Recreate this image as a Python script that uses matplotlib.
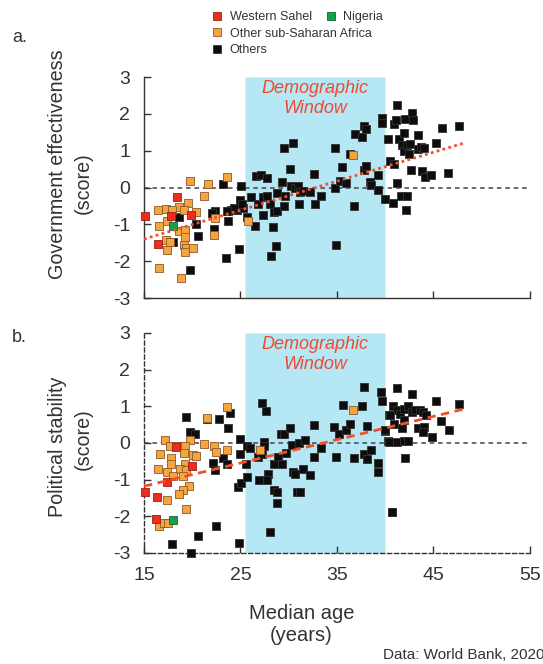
import numpy as np
import matplotlib
matplotlib.use('Agg')
import matplotlib.pyplot as plt
from matplotlib.lines import Line2D

plt.rcParams['font.family'] = ['Liberation Sans', 'DejaVu Sans']

# ---- data: median age (years) vs score ----
# panel a: government effectiveness
a_sahel_age = [15.1, 18.4, 17.8, 19.9, 16.4]
a_sahel_val = [-0.77, -0.27, -0.76, -0.74, -1.53]
a_nigeria_age = [18.0]
a_nigeria_val = [-1.04]
a_ssa_age = [23.65, 19.8, 21.6, 21.2, 19.6, 16.45, 17.3, 18.6, 19.1, 17.9, 20.4, 17.4, 16.6,
             18.6, 19.2, 19.2, 17.3, 17.7, 19.1, 19.4, 20.1, 17.4, 19.2, 22.3, 22.4, 16.6, 18.8,
             25.8, 36.7]
a_ssa_val = [0.28, 0.19, 0.10, -0.22, -0.42, -0.61, -0.57, -0.54, -0.62, -0.62, -0.66, -0.90, -1.05,
             -1.19, -1.16, -1.35, -1.42, -1.49, -1.57, -1.63, -1.65, -1.71, -1.75, -1.29, -0.83, -2.19, -2.45,
             -0.90, 0.89]
a_oth_age = [18.6, 18.0, 20.4, 20.6, 19.8, 23.2, 25.1, 25.0, 22.1, 22.4, 22.3, 23.7, 23.7, 23.5, 24.8,
             24.6, 25.3, 25.7, 24.0, 24.3, 25.2, 22.0, 23.65,
             26.1, 26.5, 26.6, 27.1, 27.7, 26.8, 27.3, 27.3, 27.7, 28.1, 28.4, 28.5, 28.8, 28.7, 28.2,
             28.8, 29.3, 29.5, 30.4, 30.1, 29.5, 29.6, 30.2, 30.6, 31.0, 31.2, 31.5, 31.1, 32.2, 32.6,
             32.7, 33.3, 34.8, 34.8, 34.9, 35.3, 35.5, 35.9, 36.4, 36.8, 36.9, 37.6, 37.8, 38.0, 37.8,
             38.0, 38.4, 38.5, 39.2, 39.2, 39.7, 39.7,
             40.0, 40.3, 40.5, 40.8, 40.9, 40.9, 41.1, 41.2, 41.2, 41.4, 41.6, 41.7, 41.9, 42.1, 42.3,
             42.2, 41.9, 42.3, 42.6, 42.5, 42.7, 42.8, 42.9, 43.4, 43.4, 43.7, 44.0, 43.8, 44.1, 44.7,
             45.3, 45.9, 46.5, 47.6]
a_oth_val = [-0.81, -1.47, -0.99, -1.33, -2.25, 0.10, 0.05, -0.33, -0.70, -0.65, -1.12, -0.65, -0.90, -1.92, -1.67,
             -0.61, -0.56, -0.79, -0.60, -0.55, -0.45, -0.68, -0.63,
             -0.27, -1.04, 0.30, 0.34, 0.25, -0.45, -0.74, -0.26, -0.23, -0.44, -1.08, -0.66, -0.65, -1.58, -1.86,
             -0.15, 0.16, 1.07, 1.20, 0.50, -0.49, -0.24, 0.03, -0.02, 0.03, -0.11, -0.09, -0.44, -0.11, 0.37,
             -0.45, -0.24, 1.07, -0.02, -1.57, 0.19, 0.55, 0.12, 0.91, -0.49, 1.46, 1.38, 1.66, 1.59, 0.48,
             0.59, 0.14, 0.07, 0.34, -0.06, 1.88, 1.76,
             -0.30, 1.32, 0.71, -0.41, 0.64, 1.72, 1.82, 2.23, 0.12, 1.32, -0.24, 1.16, 1.48, 1.86, -0.24,
             -0.62, 1.00, 1.16, 1.18, 0.91, 0.48, 2.02, 1.84, 1.43, 1.04, 1.10, 1.07, 0.45, 0.28, 0.34,
             1.20, 1.61, 0.39, 1.67]

# panel b: political stability
b_sahel_age = [15.1, 16.3, 17.4, 19.95, 18.3, 16.2]
b_sahel_val = [-1.35, -1.48, -1.06, -0.63, -0.11, -2.08]
b_nigeria_age = [18.05]
b_nigeria_val = [-2.11]
b_ssa_age = [23.65, 21.5, 17.2, 19.8, 17.7, 18.5, 19.2, 21.2, 22.3, 22.5, 23.65, 16.7, 17.8, 19.1, 20.1,
             20.4, 17.8, 19.2, 16.5, 17.4, 18.7, 19.4, 18.0, 19.0, 19.7, 19.0, 18.6, 17.4, 19.4, 16.6,
             17.1, 17.5, 27.0, 36.7]
b_ssa_val = [0.98, 0.68, 0.09, 0.09, -0.09, -0.09, -0.09, -0.02, -0.09, -0.24, -0.18, -0.31, -0.41, -0.27, -0.33,
             -0.36, -0.56, -0.56, -0.71, -0.80, -0.71, -0.74, -0.90, -0.90, -1.18, -1.27, -1.39, -1.56, -1.81, -2.26,
             -2.19, -2.17, -0.20, 0.89]
b_oth_age = [19.4, 21.5, 22.8, 23.9, 23.75, 19.8, 20.3, 25.0, 25.0, 22.2, 22.4, 23.2, 23.65, 24.7, 25.1,
             22.5, 20.6, 17.9, 19.85, 24.8,
             25.7, 26.0, 25.55, 25.7, 26.9, 26.8, 27.2, 27.4, 27.4, 27.2, 27.6, 27.9, 27.7, 28.5, 28.8,
             28.8, 28.1, 28.5, 28.9, 29.3, 29.2, 29.5, 29.7, 30.1, 30.3, 30.4, 30.6, 30.9, 31.2, 31.5,
             31.1, 31.7, 32.2, 32.6, 32.6, 33.3, 34.7, 34.9, 35.2, 35.6, 35.9, 36.3, 36.8, 37.6, 37.8,
             37.8, 38.1, 38.1, 38.5, 39.2, 39.2, 39.6, 39.7, 40.0, 40.3, 40.4, 40.7,
             41.2, 42.8, 40.8, 41.2, 40.5, 41.5, 41.9, 42.4, 42.8, 43.1, 43.6, 43.9, 44.2, 41.9, 40.9,
             41.7, 43.4, 44.0, 43.9, 45.8, 45.3, 46.6, 44.8, 47.6, 40.0, 40.4, 41.2, 41.9, 42.4, 42.1,
             40.7]
b_oth_val = [0.71, 0.65, 0.65, 0.83, 0.42, 0.30, 0.24, 0.10, -0.29, -0.54, -0.74, -0.42, -0.58, -1.20, -1.10,
             -2.26, -2.53, -2.76, -3.00, -2.74,
             -0.08, -0.15, -0.58, -0.94, -1.00, -0.38, -0.29, 0.03, -0.09, 1.10, 0.87, -0.85, -1.00, -1.27, -1.33,
             -1.63, -2.44, -0.58, -0.38, -0.56, 0.25, 0.25, -0.26, 0.42, -0.05, -0.79, -0.85, -1.33, -1.35, -0.70,
             0.01, 0.09, -0.86, -0.38, 0.48, -0.14, 0.43, -0.38, 0.25, 1.04, 0.36, 0.51, -0.40, 1.02, 1.54,
             -0.29, 0.46, -0.43, -0.20, -0.54, -0.79, 1.38, 1.14, 0.34, 0.05, 0.75, -1.87,
             1.49, 1.34, 1.00, 0.91, 0.75, 0.80, 0.93, 1.02, 0.84, 0.91, 0.91, 0.84, 0.75, 0.62, 0.53,
             0.42, 0.42, 0.43, 0.30, 0.60, 1.14, 0.35, 0.16, 1.05, 0.35, 0.03, 0.03, 0.05, 0.05, -0.40,
             -1.87]

# trend lines: value at age 15 and slope per year
trend_a = [-1.40, 0.0786]
trend_b = [-1.18, 0.0635]
trend_ages = [15, 48.2]

window = [25.5, 40.0]
xticks = [15, 25, 35, 45, 55]
yticks = [-3, -2, -1, 0, 1, 2, 3]

c_black = '#0d0d0d'
c_orange = '#f6a43f'
c_red = '#ef2d1c'
c_green = '#16a04a'
c_text = '#333333'
c_trend = '#f0502c'

fig = plt.figure(figsize=(5.43, 6.64), dpi=100)
ax_a = fig.add_axes([0.2652, 0.5512, 0.7108, 0.3328])
ax_b = fig.add_axes([0.2652, 0.1672, 0.7108, 0.3313])


def draw_panel(ax, groups, trend, trend_style, dashed_spines):
    ax.axvspan(window[0], window[1], facecolor='#b5e7f4', edgecolor='#f2efc4', lw=0.8, zorder=0)
    ax.axhline(0, color='#444444', lw=1.1, ls=(0, (3, 2.5)), zorder=1)
    for age, val, color, edge in groups:
        ax.scatter(age, val, marker='s', s=40, c=color, edgecolors=edge, linewidths=0.6,
                   zorder=3, clip_on=False)
    xs = np.array(trend_ages)
    ax.plot(xs, trend[0] + trend[1] * (xs - 15), color=c_trend, lw=2.0, ls=trend_style, zorder=4)
    ax.set_xlim(15, 55)
    ax.set_ylim(-3, 3)
    ax.set_xticks(xticks)
    ax.set_yticks(yticks)
    ax.set_yticklabels([str(t) for t in yticks])
    for s in ['top', 'right']:
        ax.spines[s].set_visible(False)
    for s in ['left', 'bottom']:
        ax.spines[s].set_color(c_text)
        ax.spines[s].set_linewidth(1.0)
        if dashed_spines:
            ax.spines[s].set_linestyle((0, (3, 2)))
    ax.tick_params(direction='in', length=5, width=1.0, color=c_text, labelcolor=c_text,
                   labelsize=14, pad=10)


draw_panel(ax_a,
           [(a_oth_age, a_oth_val, c_black, '#333333'),
            (a_ssa_age, a_ssa_val, c_orange, '#8a5a28'),
            (a_sahel_age, a_sahel_val, c_red, '#9a2010'),
            (a_nigeria_age, a_nigeria_val, c_green, '#0d6a30')],
           trend_a, (0, (1, 1.2)), False)
ax_a.tick_params(axis='x', labelbottom=False)

draw_panel(ax_b,
           [(b_oth_age, b_oth_val, c_black, '#333333'),
            (b_ssa_age, b_ssa_val, c_orange, '#8a5a28'),
            (b_sahel_age, b_sahel_val, c_red, '#9a2010'),
            (b_nigeria_age, b_nigeria_val, c_green, '#0d6a30')],
           trend_b, (0, (3, 2)), True)

for ax in (ax_a, ax_b):
    ax.text(sum(window) / 2, 2.42, 'Demographic\nWindow', color='#ef4b30', style='italic',
            fontsize=13, ha='center', va='center', linespacing=1.25)

# panel letters and axis titles
fig.text(0.022, 0.944, 'a.', fontsize=13, color=c_text, va='center')
fig.text(0.022, 0.491, 'b.', fontsize=13, color=c_text, va='center')
ylab_kw = dict(rotation=90, fontsize=14.2, color=c_text, ha='center', va='center')
fig.text(0.105, 0.753, 'Government effectiveness', **ylab_kw)
fig.text(0.153, 0.724, '(score)', **ylab_kw)
fig.text(0.105, 0.327, 'Political stability', **ylab_kw)
fig.text(0.153, 0.339, '(score)', **ylab_kw)
fig.text(0.555, 0.060, 'Median age\n(years)', fontsize=14.5, color=c_text,
         ha='center', va='center', linespacing=1.2)
fig.text(0.705, 0.013, 'Data: World Bank, 2020', fontsize=11, color=c_text, va='center')

# legend
def handle(color, edge):
    return Line2D([], [], marker='s', ls='', markersize=6, markerfacecolor=color,
                  markeredgecolor=edge, markeredgewidth=0.6)

leg1 = fig.legend([handle(c_red, '#9a2010'), handle(c_green, '#0d6a30')],
                  ['Western Sahel', 'Nigeria'], ncol=2, loc='upper left',
                  bbox_to_anchor=(0.37, 1.0), frameon=False, fontsize=9,
                  handlelength=0.8, handletextpad=0.6, columnspacing=1.1, labelcolor=c_text)
leg2 = fig.legend([handle(c_orange, '#8a5a28'), handle(c_black, '#333333')],
                  ['Other sub-Saharan Africa', 'Others'], ncol=1, loc='upper left',
                  bbox_to_anchor=(0.37, 0.975), frameon=False, fontsize=9,
                  handlelength=0.8, handletextpad=0.6, labelspacing=0.35, labelcolor=c_text)

fig.savefig('out.png', dpi=100)
